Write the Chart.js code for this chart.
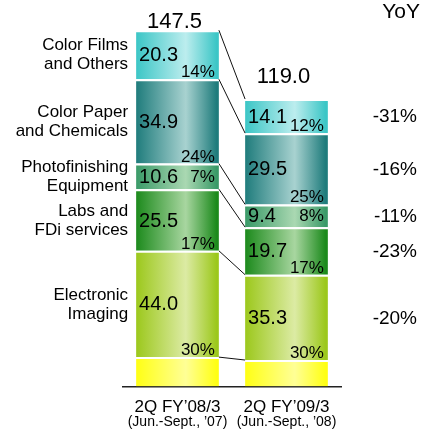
<!DOCTYPE html>
<html>
<head>
<meta charset="utf-8">
<script src="https://cdn.jsdelivr.net/npm/chart.js@4.4.1/dist/chart.umd.min.js"></script>
<style>
  html, body { margin: 0; padding: 0; background: #fff; }
  #wrap { width: 430px; height: 437px; }
</style>
</head>
<body>
<div id="wrap"><canvas id="salesChart" width="430" height="437"></canvas></div>
<script>
// sales by segment, billion yen, bottom of the stack first
var periods = ['2Q FY\u201908/3', '2Q FY\u201909/3'];
var periodNotes = ['(Jun.-Sept., \u201907)', '(Jun.-Sept., \u201908)'];
var totals = [147.5, 119.0];

var otherSales = [12.2, 11.0];
var imagingSales = [44.0, 35.3];
var labsSales = [25.5, 19.7];
var equipmentSales = [10.6, 9.4];
var paperSales = [34.9, 29.5];
var filmSales = [20.3, 14.1];

var segmentNames = [
    ['Electronic', 'Imaging'],
    ['Labs and', 'FDi services'],
    ['Photofinishing', 'Equipment'],
    ['Color Paper', 'and Chemicals'],
    ['Color Films', 'and Others']
];
var yoy = ['-20%', '-23%', '-11%', '-16%', '-31%'];

var FONT = '"Liberation Sans", Arial, sans-serif';
var BAR_SHARE = 0.76;

// horizontal shading across each bar: dark edges, light band right of centre
function shade(edge, light) {
    return function (c) {
        var chart = c.chart;
        var xs = chart.scales.x;
        if (!chart.chartArea || !xs || c.dataIndex === undefined) return edge;
        var cx = xs.getPixelForValue(c.dataIndex);
        var half = xs.width / periods.length * BAR_SHARE / 2;
        var g = chart.ctx.createLinearGradient(cx - half, 0, cx + half, 0);
        g.addColorStop(0, edge);
        g.addColorStop(0.6, light);
        g.addColorStop(0.97, edge);
        g.addColorStop(1, edge);
        return g;
    };
}

function segment(label, data, edge, light) {
    return {
        label: label,
        data: data,
        backgroundColor: shade(edge, light),
        borderColor: 'rgba(255,255,255,0.9)',
        borderWidth: { top: 2, right: 0, bottom: 0, left: 0 },
        borderSkipped: false
    };
}

var datasets = [
    segment('Other', otherSales, '#ffff14', '#ffff96'),
    segment('Electronic Imaging', imagingSales, '#9cc81c', '#dceba4'),
    segment('Labs and FDi services', labsSales, '#1c8a1c', '#a8d6a0'),
    segment('Photofinishing Equipment', equipmentSales, '#3a9a68', '#aad8b2'),
    segment('Color Paper and Chemicals', paperSales, '#1f7c7c', '#a8d2d0'),
    segment('Color Films and Others', filmSales, '#3cc6c6', '#bcedee')
];

// texts, connector lines and the YoY column drawn on top of the bars
var annotate = {
    id: 'annotate',
    afterDatasetsDraw: function (chart) {
        var ctx = chart.ctx;
        var ys = chart.scales.y;
        var xs = chart.scales.x;
        var half = xs.width / periods.length * BAR_SHARE / 2;
        var sets = chart.data.datasets;

        // cumulative boundaries of each stack
        var bounds = periods.map(function (p, i) {
            var acc = [0];
            sets.forEach(function (ds) { acc.push(acc[acc.length - 1] + ds.data[i]); });
            return acc;
        });

        ctx.save();
        // connector lines between the two stacks
        ctx.strokeStyle = '#111';
        ctx.lineWidth = 1;
        for (var k = 1; k < bounds[0].length; k++) {
            ctx.beginPath();
            ctx.moveTo(xs.getPixelForValue(0) + half, ys.getPixelForValue(bounds[0][k]));
            ctx.lineTo(xs.getPixelForValue(1) - half, ys.getPixelForValue(bounds[1][k]));
            ctx.stroke();
        }

        ctx.fillStyle = '#000';
        periods.forEach(function (p, i) {
            var cx = xs.getPixelForValue(i);
            var left = cx - half, right = cx + half;
            for (var s = 1; s < sets.length; s++) {
                var v = sets[s].data[i];
                var yTop = ys.getPixelForValue(bounds[i][s + 1]);
                var yBot = ys.getPixelForValue(bounds[i][s]);
                var yMid = (yTop + yBot) / 2;
                var pct = Math.round(v / totals[i] * 100) + '%';

                ctx.font = '20px ' + FONT;
                ctx.textAlign = 'left';
                ctx.textBaseline = 'middle';
                ctx.fillText(v.toFixed(1), left + 3, yMid + 1);

                ctx.font = '17px ' + FONT;
                ctx.textAlign = 'right';
                if (yBot - yTop < 30) {
                    ctx.textBaseline = 'middle';
                    ctx.fillText(pct, right - 4, yMid + 1);
                } else {
                    ctx.textBaseline = 'alphabetic';
                    ctx.fillText(pct, right - 4, yBot - 2);
                }

                if (i === 0) {
                    ctx.font = '17px ' + FONT;
                    ctx.textAlign = 'right';
                    ctx.textBaseline = 'middle';
                    ctx.fillText(segmentNames[s - 1][0], left - 8, yMid - 9);
                    ctx.fillText(segmentNames[s - 1][1], left - 8, yMid + 10);
                } else {
                    ctx.font = '19px ' + FONT;
                    ctx.textAlign = 'right';
                    ctx.textBaseline = 'middle';
                    ctx.fillText(yoy[s - 1], 417, yMid + 1);
                }
            }

            // stack total above each bar
            var top = ys.getPixelForValue(totals[i]);
            ctx.font = '22px ' + FONT;
            ctx.textAlign = 'center';
            ctx.textBaseline = 'alphabetic';
            ctx.fillText(totals[i].toFixed(1), cx - 3, Math.max(28, top - 16));

            // period note under the tick label
            ctx.font = '14px ' + FONT;
            ctx.textBaseline = 'middle';
            ctx.fillText(periodNotes[i], cx, 422);
        });

        ctx.font = '21px ' + FONT;
        ctx.textAlign = 'right';
        ctx.textBaseline = 'middle';
        ctx.fillText('YoY', 420, 12);
        ctx.restore();
    }
};

var ctx = document.getElementById('salesChart').getContext('2d');
var salesChart = new Chart(ctx, {
    type: 'bar',
    data: { labels: periods, datasets: datasets },
    options: {
        responsive: false,
        animation: false,
        layout: { padding: { left: 123, right: 89, top: 0, bottom: 8 } },
        datasets: { bar: { barPercentage: 1, categoryPercentage: BAR_SHARE } },
        plugins: { legend: { display: false }, tooltip: { enabled: false } },
        scales: {
            x: {
                stacked: true,
                grid: { display: false, drawTicks: false, tickLength: 0 },
                border: { display: true, color: '#222', width: 1.5 },
                ticks: { color: '#000', padding: 11, font: { family: FONT, size: 17 } }
            },
            y: {
                stacked: true,
                display: false,
                min: 0,
                max: 160
            }
        }
    },
    plugins: [annotate]
});
</script>
</body>
</html>
